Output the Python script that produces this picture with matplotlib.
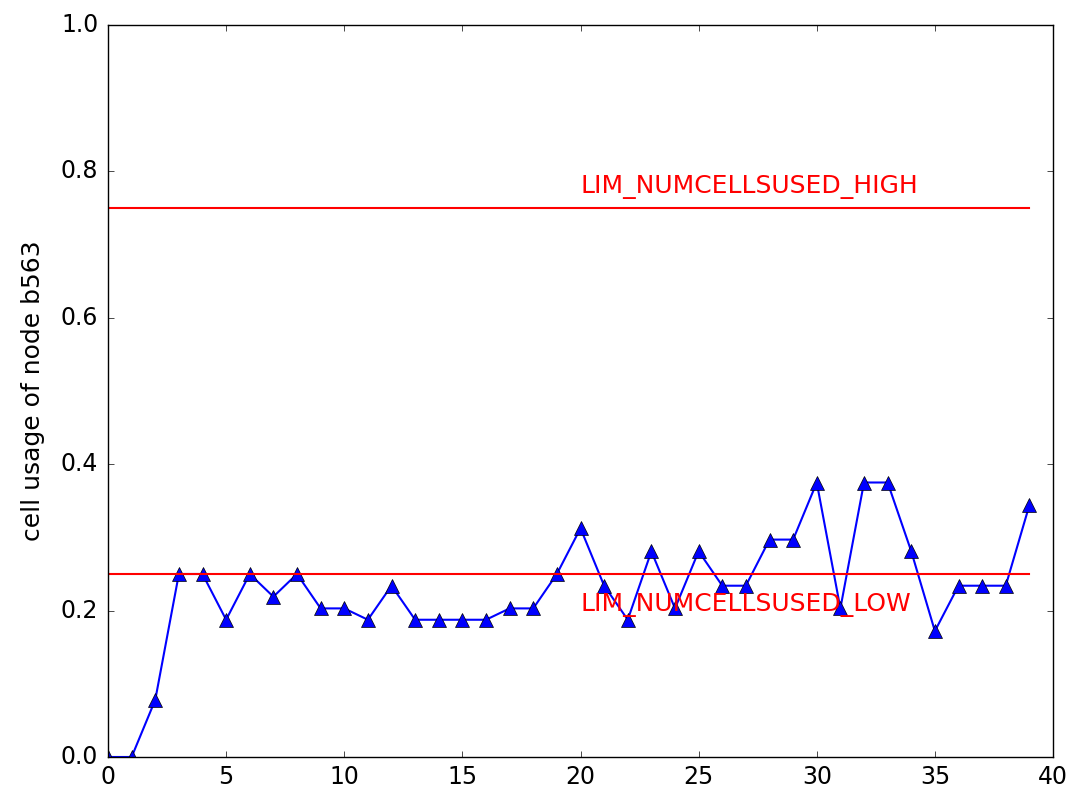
import matplotlib
matplotlib.use("Agg")
import matplotlib.pyplot as plt

plt.style.use('classic')

x = list(range(40))
usage = [0.0, 0.0, 0.078, 0.25, 0.25, 0.1875, 0.25, 0.219, 0.25, 0.203,
         0.203, 0.1875, 0.234, 0.1875, 0.1875, 0.1875, 0.1875, 0.203, 0.203, 0.25,
         0.3125, 0.234, 0.1875, 0.281, 0.203, 0.281, 0.234, 0.234, 0.297, 0.297,
         0.375, 0.203, 0.375, 0.375, 0.281, 0.172, 0.234, 0.234, 0.234, 0.344]
lim_high = 0.75
lim_low = 0.25
label_high = "LIM_NUMCELLSUSED_HIGH"
label_low = "LIM_NUMCELLSUSED_LOW"
ylabel = "cell usage of node b563"

fig = plt.figure(figsize=(10.68, 7.89), dpi=100, facecolor='white')
ax = fig.add_axes([108/1068, 1-757/789, (1053-108)/1068, (757-25)/789])

ax.plot(x, usage, color='blue', marker='^', markersize=10, linewidth=1.5,
        markeredgecolor='black')
ax.plot([x[0], x[-1]], [lim_high, lim_high], color='red', linewidth=1.5)
ax.plot([x[0], x[-1]], [lim_low, lim_low], color='red', linewidth=1.5)
ax.text(20, lim_high + 0.02, label_high, color='red', fontsize=18)
ax.text(20, lim_low - 0.05, label_low, color='red', fontsize=18)

ax.set_xlim(0, 40)
ax.set_ylim(0, 1.0)
ax.set_ylabel(ylabel, fontsize=18, labelpad=11)
ax.tick_params(labelsize=17)
ax.tick_params(axis='y', pad=7)
ax.tick_params(axis='x', pad=6)

fig.savefig('out.png', dpi=100, facecolor='white')
